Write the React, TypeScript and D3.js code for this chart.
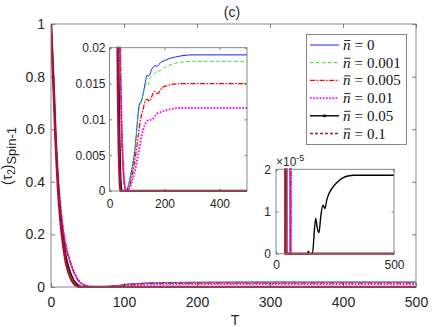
import { useEffect, useRef } from 'react';
import * as d3 from 'd3';

type Pt = [number, number];

// legend values of n-bar
const nBarLabels = ['0', '0.001', '0.005', '0.01', '0.05', '0.1'];

// (T, <tau2>), one list per curve
const nBar0: Pt[] = [
  [0, 1], [2, 0.875], [4, 0.75], [6, 0.6], [8, 0.49], [10, 0.4], [12, 0.33], [14, 0.275], [16, 0.228],
  [18, 0.19], [20, 0.16], [22, 0.135], [25, 0.105], [28, 0.08], [31, 0.058], [34, 0.04], [37, 0.026],
  [40, 0.017], [44, 0.009], [48, 0.0045], [52, 0.0018], [56, 0.0004], [60, 0], [65, 0.0003], [70, 0.001],
  [80, 0.0028], [90, 0.005], [96, 0.0072], [102, 0.0099], [108, 0.012], [117, 0.0127], [123, 0.0137],
  [129, 0.0149], [137, 0.0162], [142, 0.016], [147, 0.0163], [153, 0.017], [158, 0.0172], [165, 0.0175],
  [173, 0.0174], [180, 0.0177], [189, 0.018], [200, 0.0182], [219, 0.0185], [240, 0.0187], [267, 0.0189],
  [300, 0.019], [350, 0.019], [400, 0.019], [450, 0.019], [500, 0.019],
];
const nBar001: Pt[] = [
  [0, 1], [2, 0.875], [4, 0.75], [6, 0.6], [8, 0.49], [10, 0.4], [12, 0.33], [14, 0.275], [16, 0.228],
  [18, 0.19], [20, 0.16], [22, 0.135], [25, 0.105], [28, 0.08], [31, 0.058], [34, 0.04], [37, 0.026],
  [40, 0.017], [44, 0.009], [48, 0.0045], [52, 0.0018], [56, 0.0004], [60, 0], [66, 0.0003], [72, 0.0012],
  [80, 0.0027], [88, 0.0047], [95, 0.0068], [102, 0.0097], [108, 0.0115], [117, 0.0125], [125, 0.014],
  [135, 0.015], [140, 0.0148], [147, 0.0157], [155, 0.016], [165, 0.0165], [185, 0.0168], [200, 0.0172],
  [215, 0.0175], [235, 0.0178], [270, 0.018], [300, 0.0181], [400, 0.0181], [500, 0.0181],
];
const nBar005: Pt[] = [
  [0, 1], [2, 0.875], [4, 0.75], [6, 0.6], [8, 0.49], [10, 0.4], [12, 0.33], [14, 0.275], [16, 0.228],
  [18, 0.19], [20, 0.16], [22, 0.135], [25, 0.105], [28, 0.08], [31, 0.058], [34, 0.04], [37, 0.026],
  [40, 0.017], [44, 0.009], [48, 0.0045], [52, 0.0018], [56, 0.0004], [62, 0], [72, 0.0006], [82, 0.0022],
  [95, 0.005], [104, 0.0075], [113, 0.01], [122, 0.0114], [132, 0.0127], [138, 0.0128], [145, 0.0125],
  [155, 0.0133], [163, 0.0139], [170, 0.0137], [177, 0.0136], [185, 0.0141], [195, 0.0145], [210, 0.0147],
  [230, 0.0149], [270, 0.015], [350, 0.015], [500, 0.015],
];
const nBar01: Pt[] = [
  [0, 1], [2, 0.875], [4, 0.75], [6, 0.61], [8, 0.5], [10, 0.41], [12, 0.34], [14, 0.283], [16, 0.235],
  [18, 0.196], [20, 0.165], [22, 0.14], [25, 0.11], [28, 0.084], [31, 0.062], [34, 0.043], [37, 0.028],
  [40, 0.018], [44, 0.01], [48, 0.0052], [52, 0.0022], [56, 0.0007], [62, 0], [70, 0.0003], [78, 0.0009],
  [90, 0.0025], [104, 0.005], [111, 0.0065], [117, 0.0078], [122, 0.0085], [128, 0.0092], [135, 0.0097],
  [145, 0.0099], [155, 0.01], [165, 0.0104], [173, 0.0108], [185, 0.011], [200, 0.0112], [220, 0.0114],
  [260, 0.0116], [350, 0.0116], [500, 0.0116],
];
const nBar05: Pt[] = [
  [0, 1], [2, 0.87], [4, 0.74], [6, 0.59], [8, 0.47], [10, 0.375], [12, 0.3], [14, 0.24], [16, 0.195],
  [18, 0.16], [20, 0.128], [22, 0.1], [25, 0.07], [28, 0.046], [31, 0.028], [34, 0.016], [37, 0.008],
  [40, 0.003], [43, 0.0006], [46, 0], [100, 0], [133, 0], [137, 0.06e-5], [141, 0], [154, 0],
  [168, 0.84e-5], [175, 0.6e-5], [182, 0.5e-5], [190, 0.9e-5], [199, 1.15e-5], [207, 1.07e-5],
  [215, 1.27e-5], [225, 1.43e-5], [240, 1.57e-5], [257, 1.68e-5], [285, 1.8e-5], [305, 1.84e-5],
  [330, 1.86e-5], [400, 1.86e-5], [500, 1.86e-5],
];
const nBar1: Pt[] = [
  [0, 1], [2, 0.865], [4, 0.73], [6, 0.58], [8, 0.46], [10, 0.36], [12, 0.285], [14, 0.225], [16, 0.175],
  [18, 0.135], [20, 0.1], [22, 0.075], [25, 0.048], [28, 0.028], [31, 0.014], [34, 0.006], [37, 0.002],
  [40, 0], [500, 0],
];

const mainXTicks = [0, 100, 200, 300, 400, 500];
const mainYTicks = [0, 0.2, 0.4, 0.6, 0.8, 1];
const inset1XTicks = [0, 200, 400];
const inset1YTicks = [0, 0.005, 0.01, 0.015, 0.02];
const inset2XTicks = [0, 500];
const inset2YTicks = [0, 1e-5, 2e-5];

const allSeries = [nBar0, nBar001, nBar005, nBar01, nBar05, nBar1];

const lineStyles = [
  { color: '#1a1aff', width: 1, dash: '' },
  { color: '#22e022', width: 1, dash: '3.5,2.5' },
  { color: '#ff0000', width: 1.3, dash: '5,1.5,1.5,1.5' },
  { color: '#ff00ff', width: 2, dash: '1.6,1.6' },
  { color: '#000000', width: 1.4, dash: '' },
  { color: '#a2142f', width: 2.6, dash: '' },
];

const FONT = '"Liberation Sans", Arial, Helvetica, sans-serif';
const SERIF = '"Liberation Serif", "DejaVu Serif", serif';
const AX = '#262626';

function drawPanel(svg: any, id: string, x: any, y: any, o: any) {
  const [x0, x1] = x.range();
  const [y0, y1] = y.range();
  const g = svg.append('g');

  g.append('rect')
    .attr('x', x0).attr('y', y1)
    .attr('width', x1 - x0).attr('height', y0 - y1)
    .attr('fill', '#fff');

  svg.append('clipPath').attr('id', id)
    .append('rect')
    .attr('x', x0).attr('y', y1 - 1)
    .attr('width', x1 - x0).attr('height', y0 - y1 + 2);

  const line = d3.line<Pt>()
    .x(d => x(d[0]))
    .y(d => Math.max(y(d[1]), -3000))
    .curve(d3.curveMonotoneX);

  const lines = g.append('g').attr('clip-path', `url(#${id})`);
  allSeries.forEach((s, i) => {
    const st = lineStyles[i];
    lines.append('path')
      .attr('d', line(s))
      .attr('fill', 'none')
      .attr('stroke', st.color)
      .attr('stroke-width', st.width)
      .attr('stroke-dasharray', st.dash || null);
  });

  const t = o.tick;
  const bottom = g.append('g')
    .attr('transform', `translate(0,${y0})`)
    .call(d3.axisBottom(x).tickValues(o.xTicks).tickSizeInner(-t).tickSizeOuter(0)
      .tickPadding(o.xPad).tickFormat(o.xFmt));
  const left = g.append('g')
    .attr('transform', `translate(${x0},0)`)
    .call(d3.axisLeft(y).tickValues(o.yTicks).tickSizeInner(-t).tickSizeOuter(0)
      .tickPadding(o.yPad).tickFormat(o.yFmt));
  const top = g.append('g')
    .attr('transform', `translate(0,${y1})`)
    .call(d3.axisTop(x).tickValues(o.xTicks).tickSizeInner(-t).tickSizeOuter(0).tickFormat(() => ''));
  const right = g.append('g')
    .attr('transform', `translate(${x1},0)`)
    .call(d3.axisRight(y).tickValues(o.yTicks).tickSizeInner(-t).tickSizeOuter(0).tickFormat(() => ''));

  [bottom, left, top, right].forEach(a => {
    a.attr('font-family', FONT).attr('font-size', o.fontSize);
    a.select('.domain').remove();
    a.selectAll('.tick line').attr('stroke', AX).attr('stroke-width', 0.6);
    a.selectAll('.tick text').attr('fill', AX);
  });

  g.append('rect')
    .attr('x', x0).attr('y', y1)
    .attr('width', x1 - x0).attr('height', y0 - y1)
    .attr('fill', 'none')
    .attr('stroke', '#7a7a7a')
    .attr('stroke-width', 0.9);

  return g;
}

export default function App() {
  const svgRef = useRef<SVGSVGElement>(null);

  useEffect(() => {
    if (!svgRef.current) return;
    const svg = d3.select(svgRef.current);
    svg.selectAll('*').remove();

    svg.append('rect').attr('width', 436).attr('height', 327).attr('fill', '#fff');

    // main axes
    const x = d3.scaleLinear().domain([0, 500]).range([51, 416]);
    const y = d3.scaleLinear().domain([0, 1]).range([287, 24]);
    drawPanel(svg, 'clipMain', x, y, {
      xTicks: mainXTicks, yTicks: mainYTicks, tick: 4, fontSize: 14,
      xPad: 10, yPad: 6, xFmt: d3.format('~g'), yFmt: d3.format('~g'),
    });

    // title and axis labels
    svg.append('text')
      .attr('x', 232).attr('y', 17)
      .attr('text-anchor', 'middle')
      .attr('font-family', FONT).attr('font-size', 14).attr('fill', AX)
      .text('(c)');

    svg.append('text')
      .attr('x', 235).attr('y', 325)
      .attr('text-anchor', 'middle')
      .attr('font-family', FONT).attr('font-size', 14).attr('fill', AX)
      .text('T');

    const yl = svg.append('text')
      .attr('transform', 'translate(12,156) rotate(-90)')
      .attr('text-anchor', 'middle')
      .attr('font-family', FONT).attr('font-size', 14).attr('fill', AX);
    yl.append('tspan').text('(τ');
    yl.append('tspan').attr('font-size', 10).attr('dy', 3).text('2');
    yl.append('tspan').attr('dy', -3).text(')');
    yl.append('tspan').attr('font-size', 13).attr('dy', 4).text('Spin-1');

    // inset 1
    const x1 = d3.scaleLinear().domain([0, 500]).range([109.5, 247]);
    const y1 = d3.scaleLinear().domain([0, 0.02]).range([191, 47.7]);
    drawPanel(svg, 'clipIn1', x1, y1, {
      xTicks: inset1XTicks, yTicks: inset1YTicks, tick: 2.5, fontSize: 12,
      xPad: 8, yPad: 4, xFmt: d3.format('~g'), yFmt: d3.format('~g'),
    });

    // inset 2
    const x2 = d3.scaleLinear().domain([0, 500]).range([276, 394]);
    const y2 = d3.scaleLinear().domain([0, 2e-5]).range([253.7, 169.3]);
    drawPanel(svg, 'clipIn2', x2, y2, {
      xTicks: inset2XTicks, yTicks: inset2YTicks, tick: 2.5, fontSize: 12,
      xPad: 7, yPad: 5, xFmt: d3.format('~g'), yFmt: (d: number) => String(Math.round(d * 1e5)),
    });
    const ex = svg.append('text')
      .attr('x', 276).attr('y', 166)
      .attr('font-family', FONT).attr('font-size', 12).attr('fill', AX);
    ex.append('tspan').text('×10');
    ex.append('tspan').attr('font-size', 9).attr('dy', -5).text('-5');

    // legend
    const lg = svg.append('g');
    lg.append('rect')
      .attr('x', 306.5).attr('y', 34.5)
      .attr('width', 100).attr('height', 110)
      .attr('fill', '#fff')
      .attr('stroke', '#7a7a7a').attr('stroke-width', 0.9);
    const rowY = d3.scalePoint<number>().domain(d3.range(6)).range([45, 133.5]);
    nBarLabels.forEach((lab, i) => {
      const st = lineStyles[i];
      const cy = rowY(i) as number;
      lg.append('line')
        .attr('x1', 310).attr('x2', 339)
        .attr('y1', cy).attr('y2', cy)
        .attr('stroke', st.color)
        .attr('stroke-width', i === 5 ? 1.3 : Math.min(st.width, 1.8))
        .attr('stroke-dasharray', i === 5 ? '3,2' : (st.dash || null));
      if (i === 4) {
        lg.append('circle').attr('cx', 324.5).attr('cy', cy).attr('r', 1.5).attr('fill', '#000');
      }
      const tx = lg.append('text')
        .attr('x', 343).attr('y', cy + 5)
        .attr('font-family', SERIF).attr('font-size', 15).attr('fill', '#111');
      tx.append('tspan').attr('font-style', 'italic').text('n');
      tx.append('tspan').attr('dx', 4).text('=');
      tx.append('tspan').attr('dx', 4).text(lab);
      lg.append('line')
        .attr('x1', 344.2).attr('x2', 350.5)
        .attr('y1', cy - 4.5).attr('y2', cy - 4.5)
        .attr('stroke', '#111').attr('stroke-width', 0.9);
    });
  }, []);

  return (
    <div style={{ position: 'fixed', left: 0, top: 0 }}>
      <svg ref={svgRef} width={436} height={327} style={{ display: 'block' }} />
    </div>
  );
}
